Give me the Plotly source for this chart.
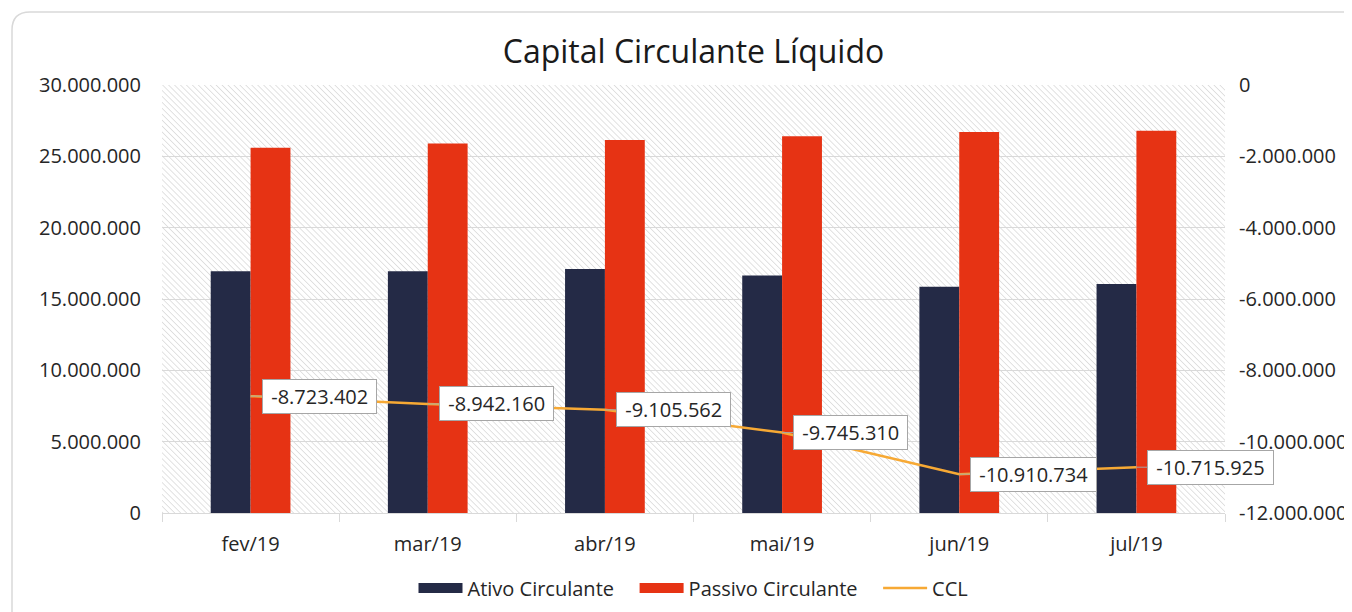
import base64
import plotly.graph_objects as go

categories = ["fev/19", "mar/19", "abr/19", "mai/19", "jun/19", "jul/19"]
ativo = [16950000, 16950000, 17100000, 16650000, 15850000, 16050000]
passivo = [25600000, 25900000, 26150000, 26400000, 26700000, 26800000]
ccl = [-8723402, -8942160, -9105562, -9745310, -10910734, -10715925]

left_ticks = [0, 5000000, 10000000, 15000000, 20000000, 25000000, 30000000]
right_ticks = [0, -2000000, -4000000, -6000000, -8000000, -10000000, -12000000]


def fmt(v):
    return f"{v:,}".replace(",", ".")


FONT = "Open Sans, Noto Sans, sans-serif"
TXT = "#262626"
GRID = "#d9d9d9"
C_ATIVO, C_PASSIVO, C_CCL = "#242a46", "#e63314", "#f7a934"
SP = "\u00a0\u00a0\u00a0"

# page body has an 8px margin: work in figure-div coordinates
OFF = 8
W, H = 1352 - OFF, 612 - OFF
L, T = 162 - OFF, 85 - OFF
PW, PH = 1063, 428
R, B = W - L - PW, H - T - PH

svg = (
    f'<svg xmlns="http://www.w3.org/2000/svg" width="{PW}" height="{PH}">'
    '<defs><pattern id="p" width="4.2" height="4.2" patternUnits="userSpaceOnUse" '
    'patternTransform="rotate(-45)">'
    '<line x1="0" y1="0" x2="0" y2="4.2" stroke="#d9d9d9" stroke-width="1.5"/>'
    '</pattern></defs><rect width="100%" height="100%" fill="white"/>'
    '<rect width="100%" height="100%" fill="url(#p)"/></svg>'
)
svg_uri = "data:image/svg+xml;base64," + base64.b64encode(svg.encode()).decode()

fig = go.Figure()
fig.add_trace(go.Bar(x=categories, y=ativo, name="Ativo Circulante",
                     showlegend=False, legendgroup="a",
                     marker=dict(color=C_ATIVO, line=dict(width=0))))
fig.add_trace(go.Bar(x=categories, y=passivo, name="Passivo Circulante",
                     showlegend=False, legendgroup="p",
                     marker=dict(color=C_PASSIVO, line=dict(width=0))))
fig.add_trace(go.Scatter(x=categories, y=ccl, name="CCL", yaxis="y2",
                         mode="lines", showlegend=False, legendgroup="c",
                         line=dict(color=C_CCL, width=2.5)))
# legend-only entries (wide swatches like the original)
fig.add_trace(go.Scatter(x=[None], y=[None], name="Ativo Circulante" + SP, mode="lines",
                         legendgroup="a", line=dict(color=C_ATIVO, width=14)))
fig.add_trace(go.Scatter(x=[None], y=[None], name="Passivo Circulante" + SP, mode="lines",
                         legendgroup="p", line=dict(color=C_PASSIVO, width=14)))
fig.add_trace(go.Scatter(x=[None], y=[None], name="CCL", mode="lines",
                         legendgroup="c", line=dict(color=C_CCL, width=2.5)))

annotations = []
for c, v in zip(categories, ccl):
    annotations.append(dict(
        x=c, y=v, xref="x", yref="y2", text="\u00a0" + fmt(v) + "\u00a0",
        showarrow=True, ax=11, ay=0, axref="pixel", ayref="pixel",
        arrowhead=0, arrowwidth=1, arrowcolor="#a6a6a6", standoff=0,
        xanchor="left", yanchor="middle",
        font=dict(family=FONT, size=20, color=TXT),
        bgcolor="white", bordercolor="#a6a6a6", borderwidth=1, borderpad=3,
    ))

# rounded container border (screen coords -> paper)
px = lambda x: (x - OFF - L) / PW
py = lambda y: (T + PH - (y - OFF)) / PH
x0, yt, xr, yb = px(12), py(12), px(1400), py(650)
rx, ry = 18 / PW, 18 / PH
path = (f"M {x0},{yb} L {x0},{yt - ry} Q {x0},{yt} {x0 + rx},{yt} L {xr},{yt}")

fig.update_layout(
    width=W, height=H,
    margin=dict(l=L, r=R, t=T, b=B, autoexpand=False),
    paper_bgcolor="white", plot_bgcolor="rgba(0,0,0,0)",
    separators=",.",
    font=dict(family=FONT, size=20, color=TXT),
    title=dict(text="Capital Circulante Líquido", x=0.5, xref="paper",
               y=1 - (52 - OFF) / H, yanchor="middle",
               font=dict(family=FONT, size=32, color="#1a1a1a")),
    barmode="group", bargap=0.55, bargroupgap=0,
    xaxis=dict(type="category", categoryorder="array", categoryarray=categories,
               range=[-0.5, len(categories) - 0.5],
               showgrid=False, showline=True, linecolor=GRID, linewidth=1,
               ticks="outside", tickson="boundaries", ticklen=8, tickcolor=GRID,
               ticklabelstandoff=13, automargin=False,
               tickfont=dict(size=20, color=TXT)),
    yaxis=dict(range=[0, 30000000], tickvals=left_ticks,
               ticktext=[fmt(v) for v in left_ticks],
               showgrid=True, gridcolor=GRID, gridwidth=1, zeroline=False,
               showline=False, ticklabelstandoff=20, automargin=False,
               tickfont=dict(size=20, color=TXT)),
    yaxis2=dict(range=[-12000000, 0], overlaying="y", side="right",
                tickvals=right_ticks, ticktext=[fmt(v) for v in right_ticks],
                showgrid=False, zeroline=False, showline=False,
                ticklabelstandoff=13, automargin=False,
                tickfont=dict(size=20, color=TXT)),
    legend=dict(orientation="h", x=0.5, xanchor="center", y=py(588),
                yanchor="middle", font=dict(size=20, color=TXT),
                bgcolor="rgba(0,0,0,0)", itemwidth=44),
    annotations=annotations,
    images=[dict(source=svg_uri, xref="paper", yref="paper", x=0, y=1,
                 sizex=1, sizey=1, sizing="stretch", layer="below",
                 xanchor="left", yanchor="top")],
    shapes=[dict(type="path", path=path, xref="paper", yref="paper",
                 line=dict(color="#d9d9d9", width=1.5), layer="below")],
)

fig.write_html("out.html")
